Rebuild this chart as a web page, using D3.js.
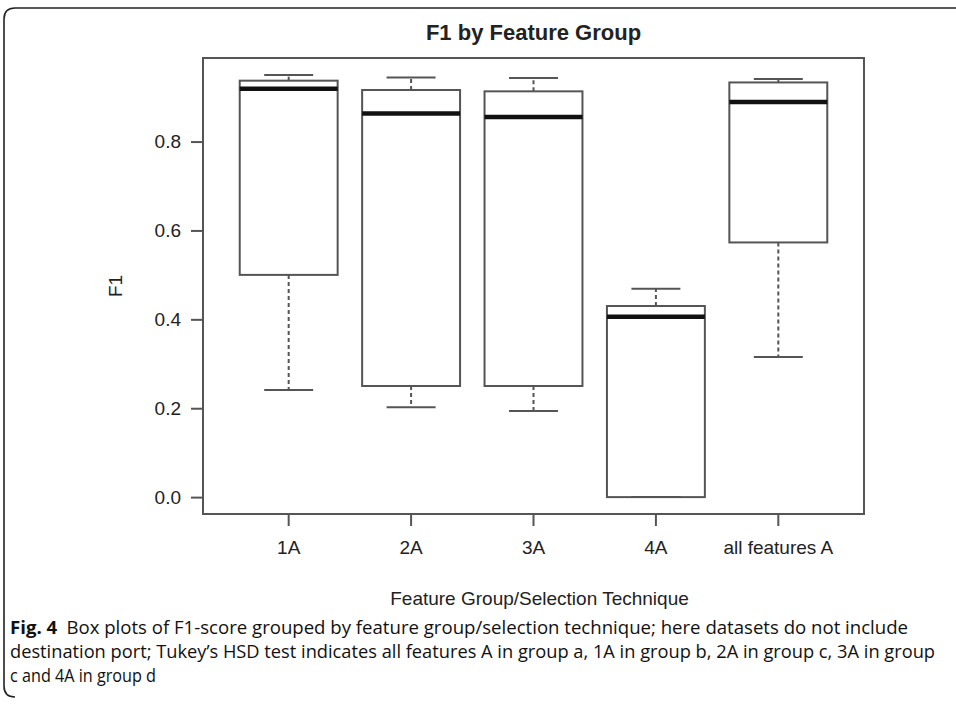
<!DOCTYPE html>
<html>
<head>
<meta charset="utf-8">
<title>F1 by Feature Group</title>
<style>
	body { margin: 0; background: #fff; }
	svg text { font-family: "Liberation Sans", Arial, sans-serif; fill: #222; }
	.caption text { font-family: "Open Sans", "Noto Sans", sans-serif; fill: #111; }
</style>
</head>
<body>
<div id="chart"></div>
<script src="https://cdnjs.cloudflare.com/ajax/libs/d3/7.8.5/d3.min.js"></script>
<script>
	// groups and box statistics
	var groups = ["1A", "2A", "3A", "4A", "all features A"];
	var whiskerLow  = [0.241, 0.202, 0.194, 0.000, 0.315];
	var q1          = [0.500, 0.250, 0.250, 0.000, 0.573];
	var median      = [0.919, 0.863, 0.855, 0.406, 0.889];
	var q3          = [0.937, 0.916, 0.913, 0.430, 0.933];
	var whiskerHigh = [0.950, 0.944, 0.943, 0.469, 0.941];
	var yTicks = [0, 0.2, 0.4, 0.6, 0.8];

	var captionLines = [
		"Box plots of F1-score grouped by feature group/selection technique; here datasets do not include",
		"destination port; Tukey\u2019s HSD test indicates all features A in group a, 1A in group b, 2A in group c, 3A in group",
		"c and 4A in group d"
	];

	var width = 956, height = 704;
	var frame = {left: 203, right: 864, top: 58, bottom: 514};

	var svg = d3.select("#chart").append("svg")
		.attr("width", width)
		.attr("height", height);

	// outer panel border (rounded, open to the right)
	svg.append("path")
		.attr("d", "M" + width + ",8 L15,8 Q4,8 4,19 L4,686 Q4,697 15,697")
		.attr("fill", "none")
		.attr("stroke", "#222")
		.attr("stroke-width", 1.6);

	var data = groups.map(function(g, i) {
		return {name: g, lo: whiskerLow[i], q1: q1[i], med: median[i], q3: q3[i], hi: whiskerHigh[i]};
	});

	// R style: extend the range by 4% each side
	var yMax = d3.max(whiskerHigh), yMin = d3.min(whiskerLow);
	var pad = (yMax - yMin) * 0.04;
	var y = d3.scaleLinear()
		.domain([yMin - pad, yMax + pad])
		.range([frame.bottom, frame.top]);

	var x = d3.scaleBand()
		.domain(groups)
		.range([frame.left, frame.right])
		.paddingInner(0.2)
		.paddingOuter(0.3);

	var boxColor = "#555";

	var g = svg.selectAll(".box")
		.data(data)
		.enter().append("g")
		.attr("class", "box");

	// whiskers (dashed)
	g.append("line")
		.attr("x1", function(d) { return x(d.name) + x.bandwidth() / 2; })
		.attr("x2", function(d) { return x(d.name) + x.bandwidth() / 2; })
		.attr("y1", function(d) { return y(d.q3); })
		.attr("y2", function(d) { return y(d.hi); })
		.attr("stroke", boxColor).attr("stroke-width", 2)
		.attr("stroke-dasharray", "4,3");
	g.append("line")
		.attr("x1", function(d) { return x(d.name) + x.bandwidth() / 2; })
		.attr("x2", function(d) { return x(d.name) + x.bandwidth() / 2; })
		.attr("y1", function(d) { return y(d.q1); })
		.attr("y2", function(d) { return y(d.lo); })
		.attr("stroke", boxColor).attr("stroke-width", 2)
		.attr("stroke-dasharray", "4,3");

	// staples
	["lo", "hi"].forEach(function(k) {
		g.append("line")
			.attr("x1", function(d) { return x(d.name) + x.bandwidth() * 0.25; })
			.attr("x2", function(d) { return x(d.name) + x.bandwidth() * 0.75; })
			.attr("y1", function(d) { return y(d[k]); })
			.attr("y2", function(d) { return y(d[k]); })
			.attr("stroke", boxColor).attr("stroke-width", 2);
	});

	// boxes
	g.append("rect")
		.attr("x", function(d) { return x(d.name); })
		.attr("width", x.bandwidth())
		.attr("y", function(d) { return y(d.q3); })
		.attr("height", function(d) { return y(d.q1) - y(d.q3); })
		.attr("fill", "none")
		.attr("stroke", boxColor).attr("stroke-width", 2);

	// medians
	g.append("line")
		.attr("x1", function(d) { return x(d.name); })
		.attr("x2", function(d) { return x(d.name) + x.bandwidth(); })
		.attr("y1", function(d) { return y(d.med); })
		.attr("y2", function(d) { return y(d.med); })
		.attr("stroke", "#111").attr("stroke-width", 4.5);

	// frame
	svg.append("rect")
		.attr("x", frame.left).attr("y", frame.top)
		.attr("width", frame.right - frame.left)
		.attr("height", frame.bottom - frame.top)
		.attr("fill", "none")
		.attr("stroke", "#555").attr("stroke-width", 2);

	// y axis
	var yAxis = svg.append("g")
		.attr("transform", "translate(" + frame.left + ",0)")
		.call(d3.axisLeft(y).tickValues(yTicks).tickFormat(d3.format(".1f")).tickSize(12).tickPadding(10));
	yAxis.select(".domain").remove();

	// x axis
	var xAxis = svg.append("g")
		.attr("transform", "translate(0," + frame.bottom + ")")
		.call(d3.axisBottom(x).tickSize(12).tickPadding(15));
	xAxis.select(".domain").remove();

	svg.selectAll(".tick line").attr("stroke", "#555").attr("stroke-width", 2);
	svg.selectAll(".tick text")
		.style("font-family", "'Liberation Sans', Arial, sans-serif")
		.style("font-size", "19px")
		.attr("fill", "#222");

	// titles
	var cx = (frame.left + frame.right) / 2;
	svg.append("text")
		.attr("x", cx).attr("y", 40)
		.attr("text-anchor", "middle")
		.style("font-size", "22px").style("font-weight", "bold")
		.text("F1 by Feature Group");

	svg.append("text")
		.attr("x", cx + 6).attr("y", 605)
		.attr("text-anchor", "middle")
		.style("font-size", "19px")
		.text("Feature Group/Selection Technique");

	svg.append("text")
		.attr("transform", "translate(122," + ((frame.top + frame.bottom) / 2) + ") rotate(-90)")
		.attr("text-anchor", "middle")
		.style("font-size", "19px")
		.text("F1");

	// caption
	var cap = svg.append("g").attr("class", "caption");
	var lineLengths = [898, 925, 146];
	captionLines.forEach(function(t, i) {
		var txt = cap.append("text")
			.attr("x", 10)
			.attr("y", 634 + i * 24)
			.style("font-size", "18px")
			.attr("textLength", lineLengths[i])
			.attr("lengthAdjust", "spacingAndGlyphs");
		if (i === 0) {
			txt.append("tspan").style("font-weight", "bold").text("Fig. 4");
			txt.append("tspan").text("\u2002" + t);
		} else {
			txt.text(t);
		}
	});
</script>
</body>
</html>
